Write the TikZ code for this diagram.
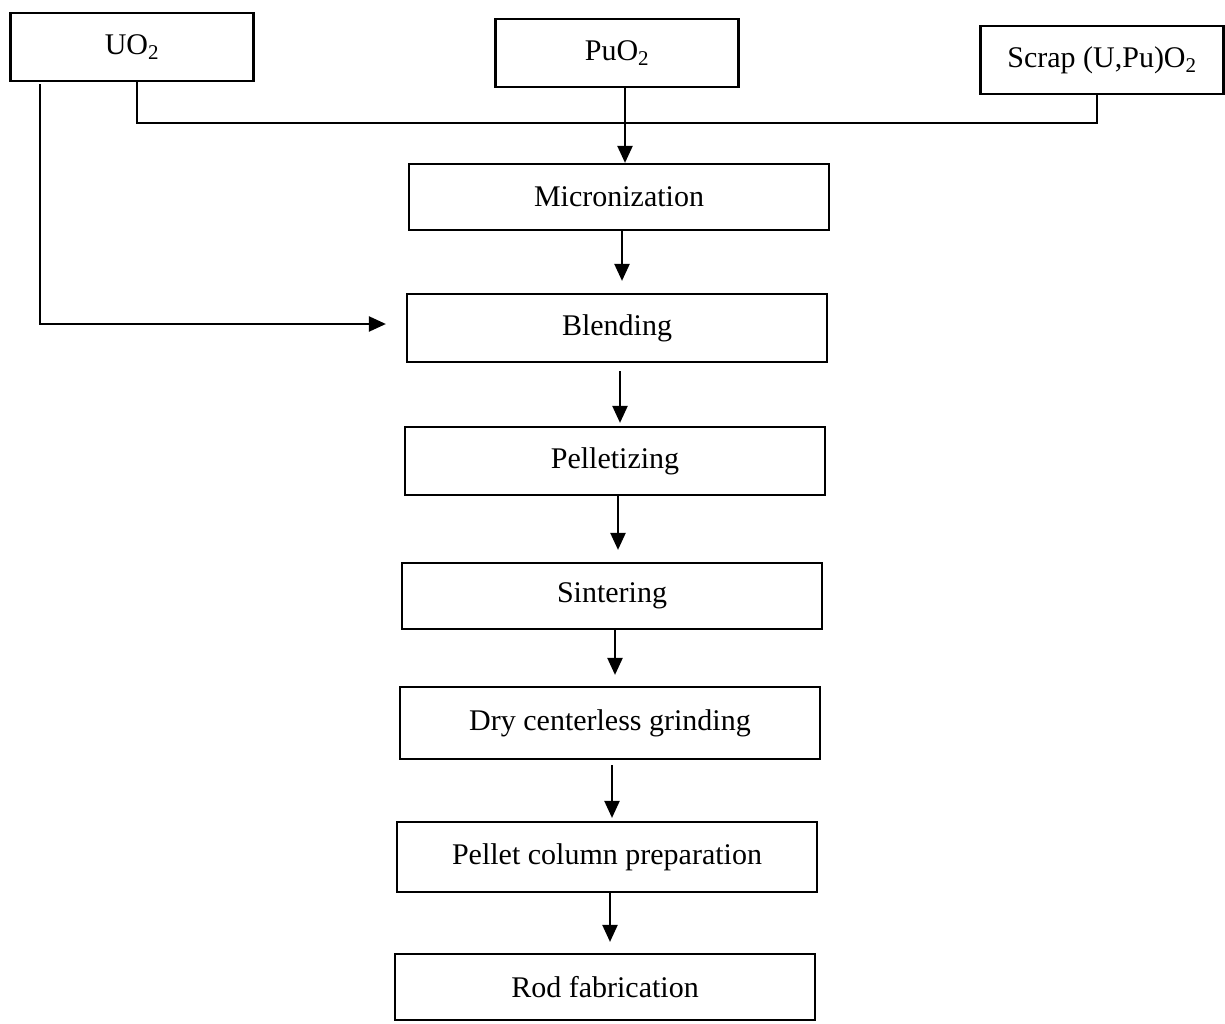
\documentclass[tikz,border=0pt]{standalone}
\usepackage{fontspec}
\setmainfont{Liberation Serif}
\usetikzlibrary{arrows.meta}
\begin{document}
\begin{tikzpicture}[x=1pt,y=-1pt,
  box/.style={draw,line width=2.2pt,inner sep=0pt,minimum width=420pt,minimum height=68pt,
    font=\fontsize{30}{36}\selectfont},
  src/.style={box,minimum width=243pt},
  arr/.style={line width=2.2pt,-{Triangle[length=17pt,width=15pt]}},
  ln/.style={line width=2.2pt}]
\useasboundingbox (0,0) rectangle (1225,1023);
\node[src] (uo) at (132,47) {UO\textsubscript{2}};
\node[src] (pu) at (617,53) {PuO\textsubscript{2}};
\node[src] (sc) at (1102,60) {Scrap (U,Pu)O\textsubscript{2}};
\node[box,minimum height=66pt] (mic) at (619,197) {Micronization};
\node[box] (bl) at (617,328) {Blending};
\node[box] (pe) at (615,461) {Pelletizing};
\node[box,minimum height=66pt] (si) at (612,596) {Sintering};
\node[box,minimum height=72pt] (dr) at (610,723) {Dry centerless grinding};
\node[box,minimum height=70pt] (pc) at (607,857) {Pellet column preparation};
\node[box,minimum height=66pt] (rod) at (605,987) {Rod fabrication};
% collector line from UO2 and scrap
\coordinate (j) at (137,123);
\draw[ln] ([xshift=5pt]uo.south) -- (j) -| ([xshift=-5pt]sc.south);
% main chain
\draw[arr] ([xshift=8pt]pu.south) -- ([xshift=8pt]pu.south |- mic.north);
\draw[arr] ([xshift=3pt]mic.south) -- ([xshift=3pt,yshift=12pt]mic.south |- bl.north);
\draw[arr] ([xshift=3pt,yshift=-8pt]bl.south) -- ([xshift=3pt,yshift=3pt]bl.south |- pe.north);
\draw[arr] ([xshift=3pt]pe.south) -- ([xshift=3pt,yshift=12pt]pe.south |- si.north);
\draw[arr] ([xshift=3pt]si.south) -- ([xshift=3pt,yshift=11pt]si.south |- dr.north);
\draw[arr] ([xshift=2pt,yshift=-5pt]dr.south) -- ([xshift=2pt,yshift=3pt]dr.south |- pc.north);
\draw[arr] ([xshift=3pt]pc.south) -- ([xshift=3pt,yshift=11pt]pc.south |- rod.north);
% UO2 direct to blending
\draw[arr] ([xshift=-92pt,yshift=-2pt]uo.south) |- ([xshift=-20pt,yshift=4pt]bl.west);
\end{tikzpicture}
\end{document}
